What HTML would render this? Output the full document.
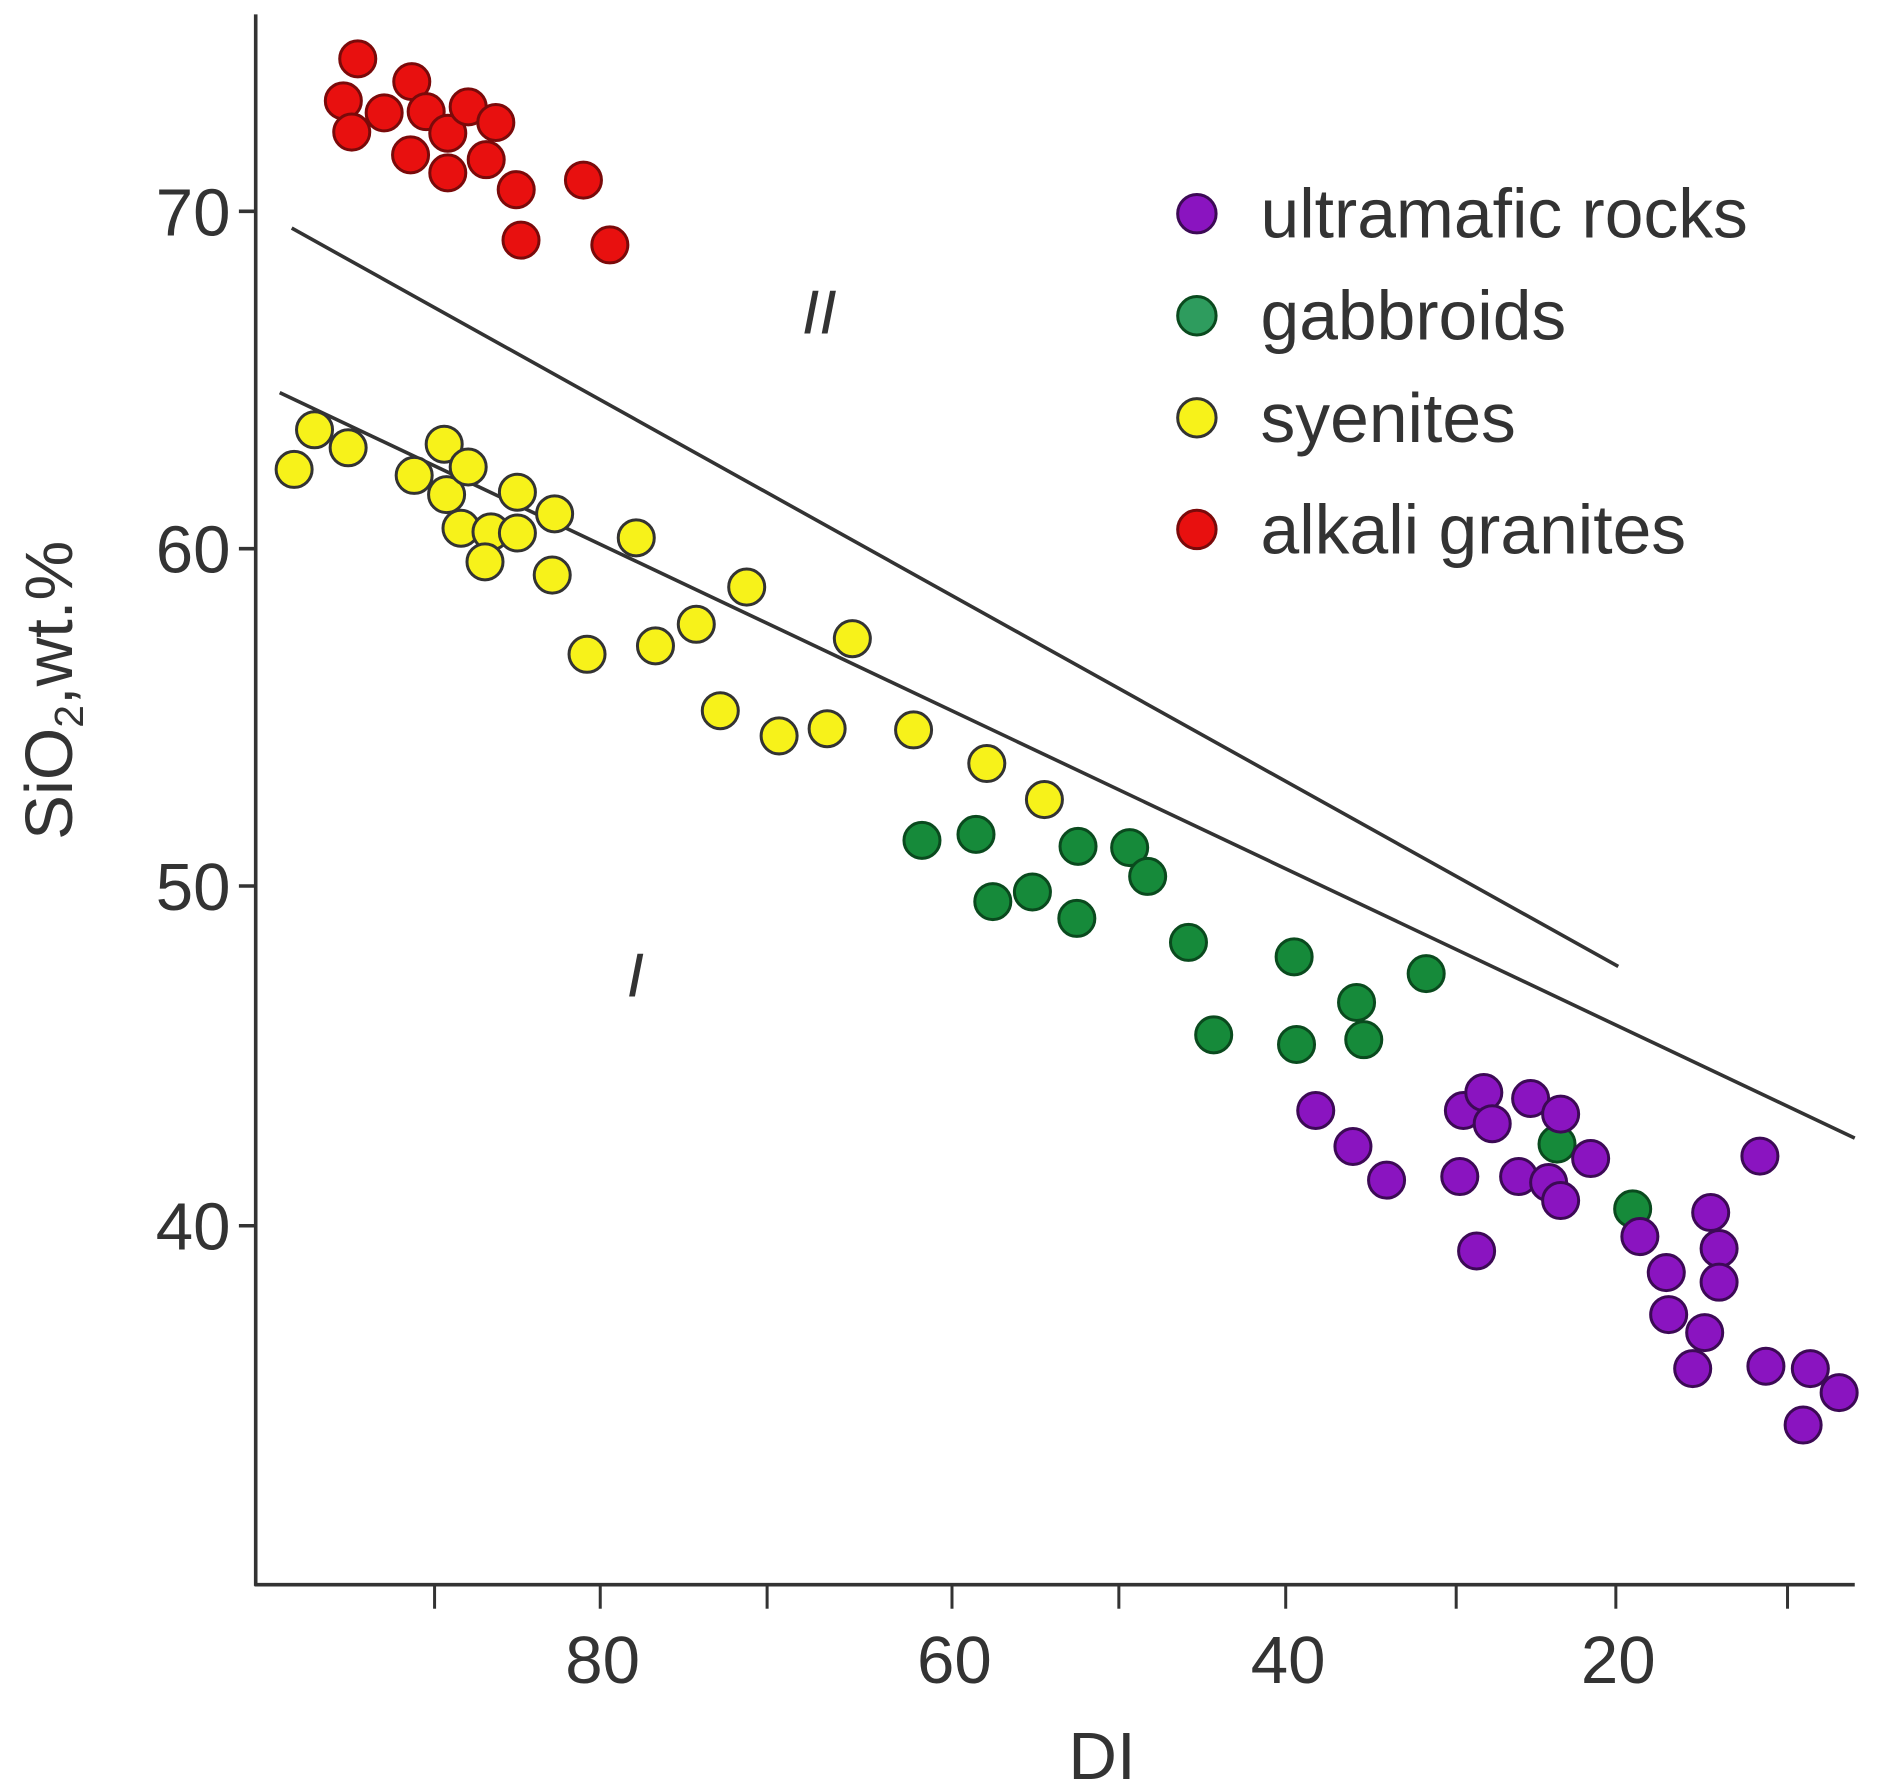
<!DOCTYPE html>
<html><head><meta charset="utf-8"><style>
html,body{margin:0;padding:0;background:#fff;}
svg{display:block;}
text{font-family:"Liberation Sans",sans-serif;fill:#333;}
</style></head><body>
<svg width="1879" height="1784" viewBox="0 0 1565.2 1486" preserveAspectRatio="none" xmlns="http://www.w3.org/2000/svg">
<g stroke="#333" stroke-width="3" fill="none">
<line x1="213" y1="12" x2="213" y2="1321"/>
<line x1="212" y1="1320" x2="1545" y2="1320"/>
<line x1="199" y1="176" x2="213" y2="176"/>
<line x1="199" y1="457" x2="213" y2="457"/>
<line x1="199" y1="738" x2="213" y2="738"/>
<line x1="199" y1="1021" x2="213" y2="1021"/>
<g stroke-width="2.5">
<line x1="362" y1="1320" x2="362" y2="1340"/>
<line x1="500" y1="1320" x2="500" y2="1340"/>
<line x1="639" y1="1320" x2="639" y2="1340"/>
<line x1="793" y1="1320" x2="793" y2="1340"/>
<line x1="932" y1="1320" x2="932" y2="1340"/>
<line x1="1071" y1="1320" x2="1071" y2="1340"/>
<line x1="1213" y1="1320" x2="1213" y2="1340"/>
<line x1="1346" y1="1320" x2="1346" y2="1340"/>
<line x1="1489" y1="1320" x2="1489" y2="1340"/>
</g>
<line x1="243" y1="190" x2="1348" y2="805"/>
<line x1="233" y1="327" x2="1545" y2="948"/>
</g>
<g font-size="56" text-anchor="end">
<text x="192" y="196">70</text>
<text x="192" y="477">60</text>
<text x="192" y="758">50</text>
<text x="192" y="1041">40</text>
</g>
<g font-size="56" text-anchor="middle">
<text x="502" y="1402">80</text>
<text x="795" y="1402">60</text>
<text x="1073" y="1402">40</text>
<text x="1348" y="1402">20</text>
<text x="918" y="1482">DI</text>
</g>
<text transform="translate(60,575) rotate(-90)" font-size="56" text-anchor="middle">SiO<tspan font-size="34" dy="9">2</tspan><tspan dy="-9">,wt.%</tspan></text>
<text x="668" y="278" font-size="52" font-style="italic">II</text>
<text x="522" y="830" font-size="52" font-style="italic">I</text>
<g stroke-width="2.5">
<g fill="#e8100f" stroke="#7a0a0a">
<circle cx="298" cy="49" r="15"/><circle cx="286" cy="84" r="15"/><circle cx="293" cy="110" r="15"/><circle cx="320" cy="94" r="15"/><circle cx="343" cy="68" r="15"/><circle cx="355" cy="93" r="15"/><circle cx="342" cy="129" r="15"/><circle cx="373" cy="111" r="15"/><circle cx="373" cy="144" r="15"/><circle cx="390" cy="89" r="15"/><circle cx="413" cy="102" r="15"/><circle cx="405" cy="133" r="15"/><circle cx="430" cy="158" r="15"/><circle cx="434" cy="200" r="15"/><circle cx="486" cy="150" r="15"/><circle cx="508" cy="204" r="15"/>
</g>
<g fill="#f7f21a" stroke="#333">
<circle cx="245" cy="391" r="15"/><circle cx="262" cy="358" r="15"/><circle cx="290" cy="373" r="15"/><circle cx="345" cy="396" r="15"/><circle cx="370" cy="370" r="15"/><circle cx="372" cy="412" r="15"/><circle cx="390" cy="389" r="15"/><circle cx="384" cy="440" r="15"/><circle cx="409" cy="443" r="15"/><circle cx="431" cy="410" r="15"/><circle cx="431" cy="444" r="15"/><circle cx="404" cy="468" r="15"/><circle cx="462" cy="428" r="15"/><circle cx="460" cy="479" r="15"/><circle cx="530" cy="448" r="15"/><circle cx="489" cy="545" r="15"/><circle cx="546" cy="538" r="15"/><circle cx="580" cy="520" r="15"/><circle cx="622" cy="489" r="15"/><circle cx="600" cy="592" r="15"/><circle cx="649" cy="613" r="15"/><circle cx="689" cy="607" r="15"/><circle cx="710" cy="532" r="15"/><circle cx="761" cy="608" r="15"/><circle cx="822" cy="636" r="15"/><circle cx="870" cy="666" r="15"/>
</g>
<g fill="#168a3a" stroke="#0a4a1e">
<circle cx="768" cy="700" r="15"/><circle cx="813" cy="695" r="15"/><circle cx="827" cy="751" r="15"/><circle cx="860" cy="743" r="15"/><circle cx="898" cy="705" r="15"/><circle cx="897" cy="765" r="15"/><circle cx="941" cy="706" r="15"/><circle cx="956" cy="730" r="15"/><circle cx="990" cy="785" r="15"/><circle cx="1078" cy="797" r="15"/><circle cx="1011" cy="862" r="15"/><circle cx="1080" cy="870" r="15"/><circle cx="1130" cy="835" r="15"/><circle cx="1136" cy="866" r="15"/><circle cx="1188" cy="811" r="15"/><circle cx="1297" cy="953" r="15"/><circle cx="1360" cy="1007" r="15"/>
</g>
<g fill="#8a14c0" stroke="#3c0a55">
<circle cx="1096" cy="925" r="15"/><circle cx="1127" cy="955" r="15"/><circle cx="1155" cy="983" r="15"/><circle cx="1219" cy="925" r="15"/><circle cx="1236" cy="910" r="15"/><circle cx="1243" cy="936" r="15"/><circle cx="1275" cy="915" r="15"/><circle cx="1300" cy="928" r="15"/><circle cx="1216" cy="980" r="15"/><circle cx="1265" cy="980" r="15"/><circle cx="1290" cy="985" r="15"/><circle cx="1300" cy="1000" r="15"/><circle cx="1325" cy="965" r="15"/><circle cx="1230" cy="1042" r="15"/><circle cx="1466" cy="963" r="15"/><circle cx="1366" cy="1030" r="15"/><circle cx="1388" cy="1060" r="15"/><circle cx="1390" cy="1095" r="15"/><circle cx="1420" cy="1110" r="15"/><circle cx="1410" cy="1140" r="15"/><circle cx="1425" cy="1010" r="15"/><circle cx="1432" cy="1040" r="15"/><circle cx="1432" cy="1068" r="15"/><circle cx="1471" cy="1138" r="15"/><circle cx="1508" cy="1140" r="15"/><circle cx="1532" cy="1160" r="15"/><circle cx="1502" cy="1187" r="15"/>
</g>
<circle cx="997" cy="178" r="16" fill="#8a14c0" stroke="#3c0a55"/>
<circle cx="997" cy="263" r="16" fill="#2e9c5e" stroke="#0a4a1e"/>
<circle cx="997" cy="348" r="16" fill="#f7f21a" stroke="#333"/>
<circle cx="997" cy="441" r="16" fill="#e8100f" stroke="#7a0a0a"/>
</g>
<g font-size="58">
<text x="1050" y="198">ultramafic rocks</text>
<text x="1050" y="283">gabbroids</text>
<text x="1050" y="368">syenites</text>
<text x="1050" y="461">alkali granites</text>
</g>
</svg>
</body></html>
